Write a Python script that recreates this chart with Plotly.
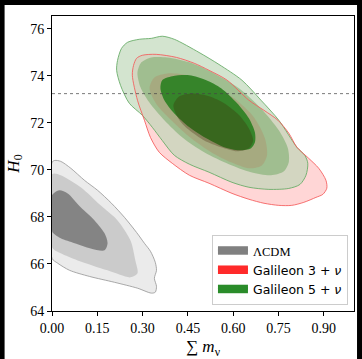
import plotly.graph_objects as go

# ---------------- data ----------------
H0_local = 73.24
H0_local_sigma = 1.74

# LCDM contours (outer -> inner)
lcdm_l3_x = [0, 0.009, 0.029, 0.062, 0.108, 0.151, 0.197, 0.240, 0.280, 0.306, 0.326, 0.342, 0.346, 0.339, 0.346, 0.342, 0.329, 0.283, 0.207, 0.124, 0.058, 0.019, 0]
lcdm_l3_y = [70.32, 70.40, 70.36, 70.07, 69.55, 69.13, 68.58, 67.98, 67.34, 66.88, 66.54, 66.07, 65.73, 65.39, 65.05, 64.80, 64.76, 64.97, 65.22, 65.47, 65.73, 66.03, 66.24]
lcdm_l2_x = [0, 0.009, 0.029, 0.095, 0.161, 0.217, 0.260, 0.276, 0.283, 0.260, 0.184, 0.085, 0.029, 0]
lcdm_l2_y = [69.81, 69.85, 69.77, 69.26, 68.49, 67.85, 67.00, 66.15, 65.60, 65.43, 65.73, 66.15, 66.45, 66.71]
lcdm_l1_x = [0, 0.009, 0.025, 0.052, 0.095, 0.141, 0.174, 0.184, 0.174, 0.128, 0.075, 0.029, 0.002, 0]
lcdm_l1_y = [68.92, 69.04, 69.13, 69.00, 68.41, 67.85, 67.30, 66.88, 66.58, 66.66, 66.88, 67.09, 67.34, 67.43]

# Galileon 3 + nu contours
gal3_l3_x = [0.266, 0.270, 0.280, 0.299, 0.345, 0.412, 0.471, 0.520, 0.580, 0.652, 0.702, 0.748, 0.784, 0.811, 0.850, 0.883, 0.907, 0.910, 0.897, 0.874, 0.834, 0.794, 0.751, 0.702, 0.652, 0.596, 0.520, 0.455, 0.398, 0.355, 0.326, 0.306, 0.283]
gal3_l3_y = [74.02, 74.44, 74.74, 74.87, 74.91, 74.78, 74.53, 74.23, 73.81, 72.96, 72.53, 72.11, 71.56, 70.96, 70.49, 70.07, 69.56, 69.22, 68.96, 68.83, 68.62, 68.49, 68.49, 68.58, 68.75, 69.00, 69.43, 69.77, 70.28, 70.75, 71.38, 72.11, 72.96]
gal3_l2_x = [0.323, 0.339, 0.382, 0.448, 0.527, 0.603, 0.669, 0.705, 0.712, 0.695, 0.652, 0.593, 0.527, 0.461, 0.395, 0.346]
gal3_l2_y = [73.47, 73.93, 74.10, 74.02, 73.64, 73.04, 72.23, 71.34, 70.62, 70.19, 70.07, 70.32, 70.75, 71.34, 72.11, 72.79]
gal3_l1_x = [0.402, 0.422, 0.465, 0.520, 0.570, 0.620, 0.652, 0.666, 0.652, 0.613, 0.560, 0.504, 0.455, 0.422]
gal3_l1_y = [72.74, 73.13, 73.25, 73.13, 72.83, 72.32, 71.76, 71.25, 70.92, 70.79, 70.96, 71.25, 71.68, 72.11]

# Galileon 5 + nu contours
gal5_l3_x = [0.217, 0.230, 0.250, 0.289, 0.329, 0.365, 0.405, 0.487, 0.553, 0.629, 0.692, 0.751, 0.811, 0.837, 0.847, 0.841, 0.821, 0.784, 0.718, 0.652, 0.596, 0.520, 0.455, 0.405, 0.365, 0.332, 0.299, 0.256, 0.227, 0.214]
gal5_l3_y = [74.65, 75.16, 75.42, 75.55, 75.59, 75.68, 75.55, 74.99, 74.48, 73.81, 72.96, 72.11, 70.96, 70.62, 70.28, 69.77, 69.38, 69.21, 69.17, 69.26, 69.47, 69.90, 70.24, 70.62, 71.25, 71.81, 72.32, 72.83, 73.59, 74.23]
gal5_l2_x = [0.283, 0.296, 0.329, 0.382, 0.455, 0.537, 0.619, 0.692, 0.751, 0.781, 0.784, 0.768, 0.725, 0.659, 0.586, 0.504, 0.432, 0.372, 0.322, 0.293]
gal5_l2_y = [74.14, 74.57, 74.78, 74.78, 74.57, 74.10, 73.47, 72.61, 71.68, 70.92, 70.32, 69.94, 69.77, 69.90, 70.24, 70.75, 71.38, 72.11, 72.87, 73.51]
gal5_l1_x = [0.359, 0.365, 0.398, 0.455, 0.511, 0.560, 0.613, 0.652, 0.672, 0.672, 0.659, 0.620, 0.570, 0.511, 0.455, 0.405, 0.372]
gal5_l1_y = [73.47, 73.81, 73.98, 74.02, 73.81, 73.47, 72.83, 72.19, 71.59, 71.17, 70.92, 70.83, 70.96, 71.34, 71.81, 72.40, 72.96]

x_ticks = [0.00, 0.15, 0.30, 0.45, 0.60, 0.75, 0.90]
x_tick_labels = ["0.00", "0.15", "0.30", "0.45", "0.60", "0.75", "0.90"]
y_ticks = [64, 66, 68, 70, 72, 74, 76]
legend_names = ["<span style='font-family:Liberation Serif'>ΛCDM</span>",
                "Galileon 3 + <i>ν</i>", "Galileon 5 + <i>ν</i>"]
legend_colors = ["#808080", "#ff2a2a", "#2a8c2a"]

# ---------------- figure ----------------
def closed(a):
    return list(a) + [a[0]]

fig = go.Figure()

def fill_poly(xs, ys, color):
    fig.add_trace(go.Scatter(x=closed(xs), y=closed(ys), mode="lines", fill="toself",
                             fillcolor=color, line=dict(width=0, shape="spline", smoothing=0.8),
                             hoverinfo="skip", showlegend=False))

def outline(xs, ys, color, w=1.0):
    fig.add_trace(go.Scatter(x=closed(xs), y=closed(ys), mode="lines",
                             line=dict(color=color, width=w, shape="spline", smoothing=0.8),
                             hoverinfo="skip", showlegend=False))

# LCDM
fill_poly(lcdm_l3_x, lcdm_l3_y, "rgba(128,128,128,0.16)")
fill_poly(lcdm_l2_x, lcdm_l2_y, "rgba(128,128,128,0.30)")
fill_poly(lcdm_l1_x, lcdm_l1_y, "rgba(120,120,120,0.85)")
outline(lcdm_l3_x, lcdm_l3_y, "rgba(150,150,150,0.9)", 0.9)

# Galileon
fill_poly(gal3_l3_x, gal3_l3_y, "rgba(255,0,0,0.16)")
fill_poly(gal5_l3_x, gal5_l3_y, "rgba(188,214,182,0.65)")
fill_poly(gal5_l2_x, gal5_l2_y, "rgba(110,165,95,0.5)")
fill_poly(gal3_l2_x, gal3_l2_y, "rgba(200,60,40,0.15)")
fill_poly(gal5_l1_x, gal5_l1_y, "rgba(42,128,32,0.9)")
fill_poly(gal3_l1_x, gal3_l1_y, "rgba(60,30,0,0.28)")
outline(gal5_l3_x, gal5_l3_y, "rgba(100,170,100,0.95)", 0.9)
outline(gal3_l3_x, gal3_l3_y, "rgba(245,90,90,0.95)", 0.9)

# legend entries
for name, col in zip(legend_names, legend_colors):
    fig.add_trace(go.Scatter(x=[None], y=[None], mode="lines", fill="toself",
                             fillcolor=col, line=dict(color=col, width=5), name=name))

# local H0 bands and line
fig.add_hrect(y0=H0_local - 2 * H0_local_sigma, y1=H0_local + 2 * H0_local_sigma,
              fillcolor="rgba(128,128,128,0.12)", line_width=0, layer="below")
fig.add_hrect(y0=H0_local - H0_local_sigma, y1=H0_local + H0_local_sigma,
              fillcolor="rgba(128,128,128,0.12)", line_width=0, layer="below")
fig.add_hline(y=H0_local, line=dict(color="rgba(70,70,70,0.9)", width=0.8, dash="dot"))

# white figure area inside a thin black frame
fig.add_shape(type="rect", xref="paper", yref="paper", x0=-0.157, x1=1.01, y0=-0.2, y1=1.037,
              fillcolor="white", line_width=0, layer="below")

serif = "Liberation Serif"
fig.update_layout(
    width=362, height=359,
    margin=dict(l=52, r=8, t=16, b=48, autoexpand=False),
    paper_bgcolor="black", plot_bgcolor="white",
    font=dict(family=serif, size=14, color="black"),
    showlegend=True,
    legend=dict(x=0.98, y=0.02, xanchor="right", yanchor="bottom",
                bgcolor="white", bordercolor="#cccccc", borderwidth=1,
                font=dict(family="DejaVu Sans", size=12.5, color="black"),
                tracegroupgap=0),
)
fig.update_xaxes(range=[0, 1.0], tickvals=x_ticks, ticktext=x_tick_labels, automargin=False,
                 showline=True, mirror=True, linecolor="black", linewidth=1,
                 ticks="outside", ticklen=4, tickcolor="black", showgrid=False, zeroline=False,
                 title=dict(text="∑ <i>m</i><sub>ν</sub>", font=dict(family=serif, size=17)),
                 tickfont=dict(family=serif, size=14))
fig.update_yaxes(range=[64, 76.54], tickvals=y_ticks, automargin=False,
                 showline=True, mirror=True, linecolor="black", linewidth=1,
                 ticks="outside", ticklen=4, tickcolor="black", showgrid=False, zeroline=False,
                 title=dict(text="<i>H</i><sub>0</sub>", font=dict(family=serif, size=17), standoff=6),
                 tickfont=dict(family=serif, size=14))

fig.write_html("out.html", config={"displayModeBar": False},
               post_script="document.body.style.margin='0';document.body.style.overflow='hidden';")
